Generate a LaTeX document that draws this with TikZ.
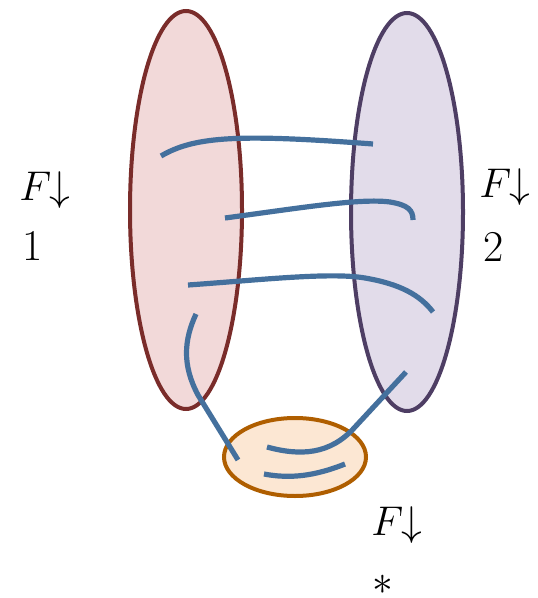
\documentclass[tikz,border=0pt]{standalone}
\usepackage{tikz}
\usetikzlibrary{positioning}
\definecolor{strandblue}{HTML}{44709D}
\definecolor{leftfill}{HTML}{F2D9D9}
\definecolor{leftline}{HTML}{7A2C2A}
\definecolor{rightfill}{HTML}{E2DCEA}
\definecolor{rightline}{HTML}{4E3E64}
\definecolor{botfill}{HTML}{FCE7D3}
\definecolor{botline}{HTML}{AF5E00}
\newcommand{\fdown}{$F\mkern-6mu\downarrow$}
\tikzset{
  blob/.style={
    line width=2pt
  },
  strand/.style={
    draw=strandblue,
    line width=2.6pt
  },
  flabel/.style={
    anchor=west,
    inner sep=0pt,
    font=\fontsize{22}{26}\selectfont
  }
}

\begin{document}
\begin{tikzpicture}[x=0.5pt,y=-0.5pt]
        \useasboundingbox (0,0) rectangle (537,598);

        % the three regions
        \draw[blob, draw=leftline, fill=leftfill] (186,210) ellipse [x radius=56, y radius=199];
        \draw[blob, draw=rightline, fill=rightfill] (407,212) ellipse [x radius=56, y radius=199];
        \draw[blob, draw=botline, fill=botfill] (295,457) ellipse [x radius=71, y radius=39];

        % strands
        \draw[strand] (161,156) .. controls (195,136) and (240,134) .. (373,144);
        \draw[strand] (225,218) .. controls (300,208) and (360,198) .. (390,202) .. controls (408,205) and (413,210) .. (413,220);
        \draw[strand] (188,285) .. controls (260,280) and (330,272) .. (365,278) .. controls (400,284) and (420,295) .. (433,312);
        \draw[strand] (196,314) .. controls (184,340) and (182,365) .. (198,395) -- (238,460);
        \draw[strand] (267,447) .. controls (300,456) and (330,455) .. (355,427) -- (406,372);
        \draw[strand] (264,474) .. controls (290,479) and (315,476) .. (345,464);

        % labels
        \node[flabel] (fone) at (19,190) {\fdown};
        \node[flabel] (one) at (22,246) {1};
        \node[flabel] (ftwo) at (479,187) {\fdown};
        \node[flabel] (two) at (483,247) {2};
        \node[flabel] (fstar) at (371,525) {\fdown};
        \node[flabel] (star) at (372,585) {$*$};
\end{tikzpicture}
\end{document}
